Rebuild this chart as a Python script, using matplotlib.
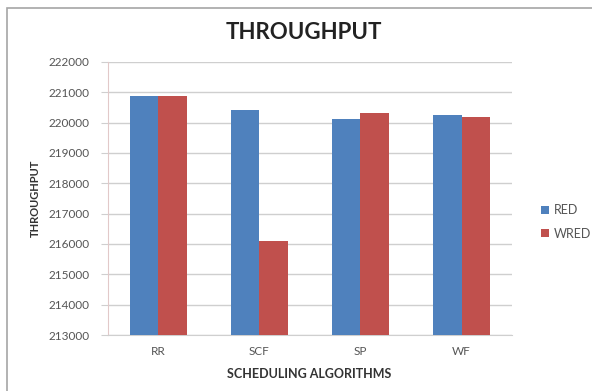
import numpy as np
import matplotlib.pyplot as plt
from matplotlib.patches import Rectangle

# throughput per scheduling algorithm
algoritmos = ['RR', 'SCF', 'SP', 'WF']
red = [220880, 220420, 220130, 220250]
wred = [220870, 216110, 220310, 220170]
y_ticks = list(range(213000, 222001, 1000))

plt.rcParams['font.family'] = ['Lato', 'DejaVu Sans']

fig = plt.figure(figsize=(5.92, 3.91), dpi=100)
ax = fig.add_axes([0.182, 0.143, 0.683, 0.699])

# moldura do gráfico
fig.patches.append(Rectangle((7 / 592, -0.1), 1.2, 1 - 8 / 391 + 0.1,
                             transform=fig.transFigure, fill=False,
                             edgecolor='#a6a6a6', linewidth=1.2))

x = np.arange(len(algoritmos))
w = 0.28
ax.bar(x - w / 2, np.array(red) - 213000, w, bottom=213000,
       color='#4F81BD', label='RED', zorder=3)
ax.bar(x + w / 2, np.array(wred) - 213000, w, bottom=213000,
       color='#C0504D', label='WRED', zorder=3)

ax.set_xlim(-0.5, len(algoritmos) - 0.5)
ax.set_ylim(213000, 222000)
ax.set_yticks(y_ticks)
ax.set_yticklabels([str(v) for v in y_ticks])
ax.set_xticks(x)
ax.set_xticklabels(algoritmos)
ax.yaxis.grid(True, color='#cfcfcf', linewidth=1, zorder=0)
ax.tick_params(axis='y', length=5, color='#cfcfcf', pad=8, labelsize=8.5,
               labelcolor='#555555')
ax.tick_params(axis='x', length=0, pad=8, labelsize=8.5, labelcolor='#555555')

for s in ['top', 'right']:
    ax.spines[s].set_visible(False)
ax.spines['left'].set_color('#e2c9c9')
ax.spines['bottom'].set_color('#cfcfcf')

fig.text(0.514, 0.918, 'THROUGHPUT', ha='center', va='center',
         fontsize=16, fontweight='bold', color='#222222')
fig.text(0.522, 0.044, 'SCHEDULING ALGORITHMS', ha='center', va='center',
         fontsize=9, fontweight='bold', color='#333333')
fig.text(0.06, 0.494, 'THROUGHPUT', ha='center', va='center',
         rotation=90, fontsize=8, fontweight='bold', color='#333333')

fig.legend(loc='center left', bbox_to_anchor=(0.895, 0.432), frameon=False,
           fontsize=9, handlelength=0.6, handleheight=0.6,
           handletextpad=0.4, labelspacing=0.9, labelcolor='#555555')

plt.savefig('out.png', dpi=100)
